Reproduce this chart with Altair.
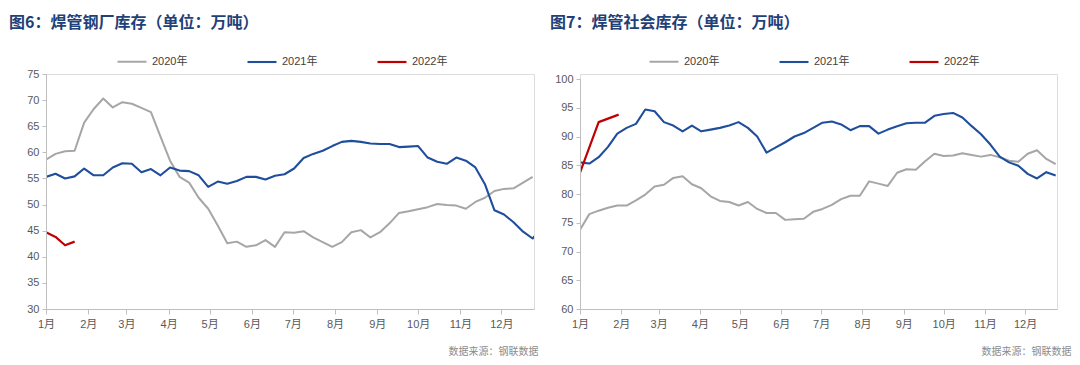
import altair as alt
import pandas as pd

# ---------------- data ----------------
series_names = ["2020年", "2021年", "2022年"]
series_colors = ["#A6A6A6", "#1F4E9C", "#C00000"]
series_widths = [2.0, 2.2, 3.0]

month_labels = ["1月", "2月", "3月", "4月", "5月", "6月", "7月", "8月", "9月", "10月", "11月", "12月"]
month_start_days = [0, 31, 59, 90, 120, 151, 181, 212, 243, 273, 304, 334]

# weekly observation days (day of year)
week_days = [7 * i for i in range(53)]

# 图6: 焊管钢厂库存
mill_2020 = [58.6, 59.7, 60.2, 60.3, 65.7, 68.3, 70.3, 68.6, 69.6, 69.3,
             68.5, 67.7, 63.0, 58.4, 55.3, 54.2, 51.3, 49.2, 46.0, 42.6,
             42.9, 41.9, 42.2, 43.2, 41.9, 44.7, 44.6, 44.9, 43.7, 42.8,
             41.9, 42.8, 44.7, 45.1, 43.7, 44.7, 46.4, 48.4, 48.7, 49.1,
             49.5, 50.1, 49.9, 49.8, 49.2, 50.5, 51.3, 52.6, 53.0, 53.1,
             54.2, 55.3]
mill_2021 = [55.3, 55.9, 55.0, 55.4, 56.9, 55.6, 55.6, 57.1, 57.9, 57.8,
             56.2, 56.8, 55.6, 57.1, 56.5, 56.4, 55.6, 53.4, 54.4, 54.0,
             54.5, 55.3, 55.3, 54.8, 55.5, 55.8, 56.9, 58.9, 59.7, 60.3,
             61.2, 62.0, 62.2, 62.0, 61.7, 61.6, 61.6, 61.0, 61.1, 61.2,
             59.0, 58.2, 57.8, 59.0, 58.4, 57.1, 53.9, 48.9, 48.1, 46.6,
             44.8, 43.5, 45.7]
mill_2022 = [44.7, 43.8, 42.2, 42.9]
mill_2022_days = [0, 7, 14, 21]

# 图7: 焊管社会库存
social_2020 = [73.8, 76.5, 77.1, 77.6, 78.0, 78.0, 78.9, 79.9, 81.3, 81.6,
               82.8, 83.1, 81.7, 81.0, 79.6, 78.8, 78.6, 78.0, 78.6, 77.4,
               76.7, 76.7, 75.5, 75.6, 75.7, 76.9, 77.4, 78.1, 79.1, 79.7,
               79.7, 82.2, 81.8, 81.4, 83.7, 84.3, 84.2, 85.7, 87.0, 86.6,
               86.7, 87.1, 86.8, 86.5, 86.8, 86.4, 85.8, 85.6, 87.0, 87.6,
               86.1, 85.2]
social_2021 = [85.5, 85.3, 86.4, 88.2, 90.5, 91.5, 92.2, 94.7, 94.4, 92.5,
               91.9, 90.9, 91.9, 90.9, 91.2, 91.5, 91.9, 92.5, 91.5, 90.0,
               87.2, 88.1, 89.0, 90.0, 90.6, 91.5, 92.4, 92.6, 92.1, 91.1,
               91.8, 91.8, 90.5, 91.2, 91.8, 92.3, 92.4, 92.4, 93.6, 93.9,
               94.1, 93.3, 91.8, 90.4, 88.6, 86.5, 85.5, 84.9, 83.5, 82.7,
               83.8, 83.2]
social_2022 = [83.7, 92.5, 93.8]
social_2022_days = [0, 14, 29]

mill_ticks = [30, 35, 40, 45, 50, 55, 60, 65, 70, 75]
social_ticks = [60, 65, 70, 75, 80, 85, 90, 95, 100]

source_text = "数据来源：钢联数据"
LATIN = "Liberation Sans, Noto Sans CJK SC"
CJK = "Noto Sans CJK SC"
AXIS_GREY = "#BFBFBF"

PLOT_H = 235


def build_frame(days_list, values_list):
    rows = []
    for name, days, vals in zip(series_names, days_list, values_list):
        for d, v in zip(days, vals):
            rows.append({"day": d, "value": v, "series": name})
    return pd.DataFrame(rows)


label_expr = "[" + ",".join("'%s'" % m for m in month_labels) + "][indexof([" + \
    ",".join(str(d) for d in month_start_days) + "], datum.value)]"


def panel(df, title_text, y_values, y_scale_max, width, legend_x, legend_y,
          source_x, y_extent, x_max, title_offset):
    y_lo, y_hi = y_values[0], y_values[-1]
    y_scale = alt.Scale(domain=[y_lo, y_scale_max], nice=False, zero=False)
    x_scale = alt.Scale(domain=[0, x_max], nice=False, zero=False)
    y_axis = alt.Axis(values=y_values, grid=False, domain=False, labelFlush=False,
                      tickColor=AXIS_GREY, tickSize=4, labelPadding=3,
                      labelFont=LATIN, labelFontSize=11, labelColor="#595959",
                      title=None, minExtent=y_extent, maxExtent=y_extent)
    legend = alt.Legend(
        orient="none", legendX=legend_x, legendY=legend_y, direction="horizontal",
        columns=3, title=None, symbolType="stroke", symbolSize=841,
        labelFont=LATIN, labelFontSize=11, labelColor="#404040",
        columnPadding=55, labelOffset=4,
    )
    lines = alt.Chart(df).mark_line(clip=True, strokeJoin="round").encode(
        x=alt.X("day:Q", scale=x_scale,
                axis=alt.Axis(values=month_start_days, labelExpr=label_expr,
                              labelFlush=False,
                              grid=False, domainColor=AXIS_GREY, tickColor=AXIS_GREY,
                              tickSize=5, labelPadding=4, labelFont=LATIN,
                              labelFontSize=11, labelColor="#595959",
                              title=source_text, titleFont=CJK, titleFontSize=10,
                              titleFontWeight="normal", titleColor="#8C8C8C",
                              titleAnchor="end", titleAlign="right",
                              titleX=source_x, titleY=42, titleBaseline="middle")),
        y=alt.Y("value:Q", scale=y_scale, axis=y_axis),
        color=alt.Color("series:N",
                        scale=alt.Scale(domain=series_names, range=series_colors),
                        legend=legend),
        strokeWidth=alt.StrokeWidth("series:N",
                                    scale=alt.Scale(domain=series_names, range=series_widths),
                                    legend=legend),
    )
    # vertical axis line drawn only from the lowest to the highest tick value
    axis_line = alt.Chart(pd.DataFrame({"lo": [y_lo], "hi": [y_hi]})).mark_rule(
        color=AXIS_GREY, strokeWidth=1
    ).encode(
        x=alt.value(0.5),
        y=alt.Y("lo:Q", scale=y_scale, axis=y_axis),
        y2="hi:Q",
    )
    return alt.layer(lines, axis_line).properties(
        width=width, height=PLOT_H,
        title=alt.TitleParams(text=title_text, anchor="start", frame="bounds",
                              font=CJK, fontSize=16, fontWeight="bold",
                              color="#1F4178", offset=title_offset),
    )


mill_df = build_frame([week_days[:52], week_days[:53], mill_2022_days],
                      [mill_2020, mill_2021, mill_2022])
social_df = build_frame([week_days[:52], week_days[:52], social_2022_days],
                        [social_2020, social_2021, social_2022])

# right panel: 100 sits 5 px below the panel top (5.75 px per unit)
left = panel(mill_df, "图6：焊管钢厂库存（单位：万吨）", mill_ticks, 75,
             488, 70, -28, 492, 37, 358, 15)
right = panel(social_df, "图7：焊管社会库存（单位：万吨）", social_ticks, 100.87,
              477, 68, -28, 491, 30, 358, 15)

chart = alt.hconcat(left, right, spacing=10).resolve_scale(
    color="independent", strokeWidth="independent"
).resolve_legend(
    color="independent", strokeWidth="independent"
).properties(
    padding={"left": 0, "top": 6, "right": 0, "bottom": 0}
).configure_view(strokeWidth=0, stroke="transparent").configure(background="white")

chart.save("out.html", embed_options={"renderer": "svg", "actions": False})
